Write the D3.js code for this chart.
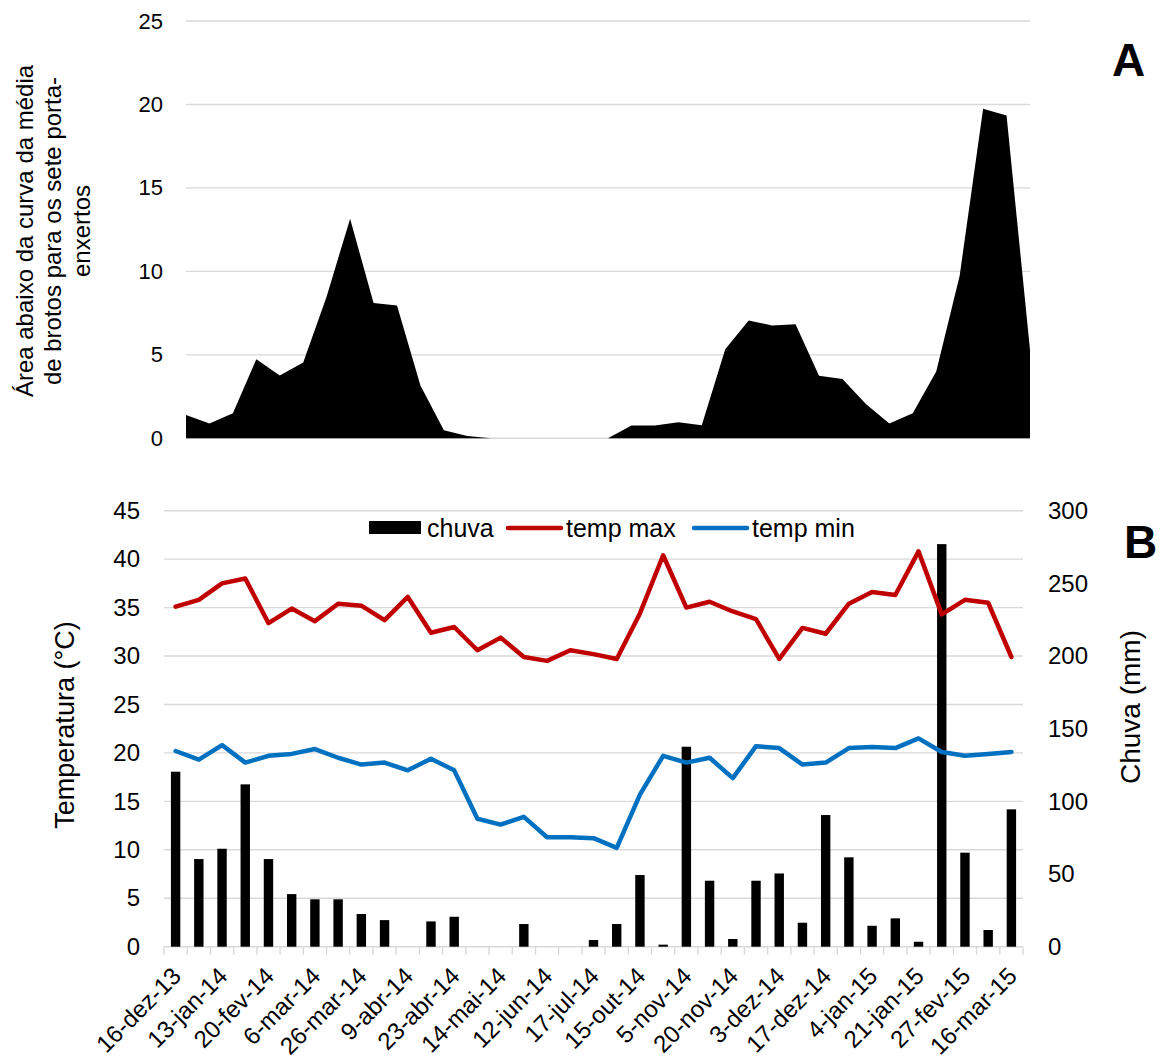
<!DOCTYPE html>
<html>
<head>
<meta charset="utf-8">
<script src="https://cdn.jsdelivr.net/npm/d3@7"></script>
<style>
  body { margin: 0; background: #fff; }
  svg { display: block; font-family: "Liberation Sans", Arial, sans-serif; }
</style>
</head>
<body>
<script>
// rótulos de data (um a cada duas coletas)
const dateLabels = ["16-dez-13", "13-jan-14", "20-fev-14", "6-mar-14", "26-mar-14", "9-abr-14",
    "23-abr-14", "14-mai-14", "12-jun-14", "17-jul-14", "15-out-14", "5-nov-14", "20-nov-14",
    "3-dez-14", "17-dez-14", "4-jan-15", "21-jan-15", "27-fev-15", "16-mar-15"];

// área abaixo da curva (painel A)
const aacValues = [1.4, 0.88, 1.5, 4.74, 3.76, 4.54, 8.5, 13.16, 8.1, 7.96, 3.16, 0.48, 0.14, 0,
    0, 0, 0, 0, 0, 0.76, 0.76, 0.96, 0.78, 5.34, 7.06, 6.76, 6.84, 3.74, 3.56, 2.06, 0.88, 1.5,
    4.0, 9.74, 19.74, 19.34, 5.3];

// painel B
const tempMax = [35.1, 35.8, 37.5, 38.0, 33.4, 34.9, 33.6, 35.4, 35.2, 33.7, 36.1, 32.4, 33.0,
    30.6, 31.9, 29.9, 29.5, 30.6, 30.2, 29.7, 34.4, 40.4, 35.0, 35.6, 34.6, 33.8, 29.7, 32.9,
    32.3, 35.4, 36.6, 36.3, 40.8, 34.3, 35.8, 35.5, 29.9];
const tempMin = [20.2, 19.3, 20.8, 19.0, 19.7, 19.9, 20.4, 19.5, 18.8, 19.0, 18.2, 19.4, 18.2,
    13.2, 12.6, 13.4, 11.3, 11.3, 11.2, 10.2, 15.7, 19.7, 19.0, 19.5, 17.4, 20.7, 20.5, 18.8,
    19.0, 20.5, 20.6, 20.5, 21.5, 20.1, 19.7, 19.9, 20.1];
const chuva = [120.4, 60.3, 67.4, 111.7, 60.3, 36.2, 32.6, 32.6, 22.5, 18.3, 0, 17.4, 20.6, 0,
    0, 15.6, 0, 0, 4.6, 15.6, 49.3, 1.4, 137.6, 45.4, 5.3, 45.4, 50.4, 16.5, 90.6, 61.5, 14.4,
    19.5, 3.4, 277, 64.7, 11.5, 94.5];

const idx = d3.range(aacValues.length);

const width = 1161;
const height = 1063;
const grid = "#d9d9d9";

const svg = d3.select("body").append("svg")
    .attr("width", width)
    .attr("height", height);

// ---------- Painel A ----------
const xA = d3.scalePoint().domain(idx).range([186, 1030]);
const yA = d3.scaleLinear().domain([0, 25]).range([438.3, 21]);

svg.append("g")
    .selectAll("line")
    .data(yA.ticks(5))
    .join("line")
    .attr("x1", 186).attr("x2", 1030)
    .attr("y1", d => yA(d)).attr("y2", d => yA(d))
    .attr("stroke", grid).attr("stroke-width", 1.4);

svg.append("path")
    .datum(idx)
    .attr("fill", "#000")
    .attr("d", d3.area().x(i => xA(i)).y0(yA(0)).y1(i => yA(aacValues[i])));

const axA = svg.append("g")
    .attr("transform", "translate(186,0)")
    .call(d3.axisLeft(yA).ticks(5).tickSize(0).tickPadding(23));
axA.select(".domain").remove();
axA.selectAll("text").attr("font-size", 22).attr("fill", "#000").attr("font-family", "Liberation Sans, Arial");

const titleA = svg.append("text")
    .attr("transform", "translate(53,231) rotate(-90)")
    .attr("text-anchor", "middle")
    .attr("font-size", 24)
    .attr("fill", "#000");
["Área abaixo da curva da média", "de brotos para os sete porta-", "enxertos"].forEach((t, k) => {
    titleA.append("tspan").attr("x", 0).attr("y", (k - 1) * 28.5).attr("dy", "0.35em").text(t);
});

svg.append("text").attr("x", 1112).attr("y", 76)
    .attr("font-size", 46).attr("font-weight", "bold").text("A");

// ---------- Painel B ----------
const xB = d3.scaleBand().domain(idx).range([164, 1023]).padding(0);
const yT = d3.scaleLinear().domain([0, 45]).range([946.7, 510.7]);
const yR = d3.scaleLinear().domain([0, 300]).range([946.7, 510.7]);

svg.append("g")
    .selectAll("line")
    .data(yT.ticks(9).filter(d => d > 0))
    .join("line")
    .attr("x1", 164).attr("x2", 1023)
    .attr("y1", d => yT(d)).attr("y2", d => yT(d))
    .attr("stroke", grid).attr("stroke-width", 1.4);

// eixo x com marcas nos limites das categorias
const xg = svg.append("g");
xg.append("line")
    .attr("x1", 164).attr("x2", 1023)
    .attr("y1", yT(0)).attr("y2", yT(0))
    .attr("stroke", grid).attr("stroke-width", 1.4);
xg.selectAll(".tk")
    .data(idx.concat([idx.length]))
    .join("line")
    .attr("class", "tk")
    .attr("x1", i => i < idx.length ? xB(i) : 1023)
    .attr("x2", i => i < idx.length ? xB(i) : 1023)
    .attr("y1", yT(0)).attr("y2", yT(0) + 8)
    .attr("stroke", grid).attr("stroke-width", 1.4);

svg.append("g")
    .selectAll("rect")
    .data(idx)
    .join("rect")
    .attr("x", i => xB(i) + xB.bandwidth() / 2 - 4.7)
    .attr("width", 9.4)
    .attr("y", i => yR(chuva[i]))
    .attr("height", i => yR(0) - yR(chuva[i]))
    .attr("fill", "#000");

const line = vals => d3.line().x(i => xB(i) + xB.bandwidth() / 2).y(i => yT(vals[i]));

svg.append("path").datum(idx)
    .attr("fill", "none").attr("stroke", "#c00000").attr("stroke-width", 4.5)
    .attr("stroke-linejoin", "round").attr("stroke-linecap", "round")
    .attr("d", line(tempMax));
svg.append("path").datum(idx)
    .attr("fill", "none").attr("stroke", "#0070c0").attr("stroke-width", 4.5)
    .attr("stroke-linejoin", "round").attr("stroke-linecap", "round")
    .attr("d", line(tempMin));

const axL = svg.append("g")
    .attr("transform", "translate(164,0)")
    .call(d3.axisLeft(yT).ticks(9).tickSize(0).tickPadding(24));
axL.select(".domain").remove();
axL.selectAll("text").attr("font-size", 24).attr("fill", "#000").attr("font-family", "Liberation Sans, Arial");

const axR = svg.append("g")
    .attr("transform", "translate(1023,0)")
    .call(d3.axisRight(yR).ticks(6).tickSize(0).tickPadding(25));
axR.select(".domain").remove();
axR.selectAll("text").attr("font-size", 24).attr("fill", "#000").attr("font-family", "Liberation Sans, Arial");

// rótulos de data
svg.append("g")
    .selectAll("text")
    .data(dateLabels)
    .join("text")
    .attr("transform", (d, k) => `translate(${xB(k * 2) + xB.bandwidth() / 2 + 1},${yT(0) + 25}) rotate(-45)`)
    .attr("text-anchor", "end")
    .attr("dy", "0.35em")
    .attr("font-size", 24)
    .text(d => d);

svg.append("text")
    .attr("transform", "translate(74,725) rotate(-90)")
    .attr("text-anchor", "middle")
    .attr("font-size", 27)
    .text("Temperatura (°C)");

svg.append("text")
    .attr("transform", "translate(1140,707) rotate(-90)")
    .attr("text-anchor", "middle")
    .attr("font-size", 28)
    .text("Chuva (mm)");

svg.append("text").attr("x", 1124).attr("y", 558)
    .attr("font-size", 46).attr("font-weight", "bold").text("B");

// legenda
const leg = svg.append("g").attr("transform", "translate(369,528)");
leg.append("rect").attr("x", 0).attr("y", -7).attr("width", 52).attr("height", 13).attr("fill", "#000");
leg.append("text").attr("x", 58).attr("y", 0).attr("dy", "0.35em").attr("font-size", 25).text("chuva");
leg.append("line").attr("x1", 139).attr("x2", 192).attr("y1", 0).attr("y2", 0)
    .attr("stroke", "#c00000").attr("stroke-width", 4.5).attr("stroke-linecap", "round");
leg.append("text").attr("x", 197).attr("y", 0).attr("dy", "0.35em").attr("font-size", 25).text("temp max");
leg.append("line").attr("x1", 325).attr("x2", 378).attr("y1", 0).attr("y2", 0)
    .attr("stroke", "#0070c0").attr("stroke-width", 4.5).attr("stroke-linecap", "round");
leg.append("text").attr("x", 383).attr("y", 0).attr("dy", "0.35em").attr("font-size", 25).text("temp min");
</script>
</body>
</html>
